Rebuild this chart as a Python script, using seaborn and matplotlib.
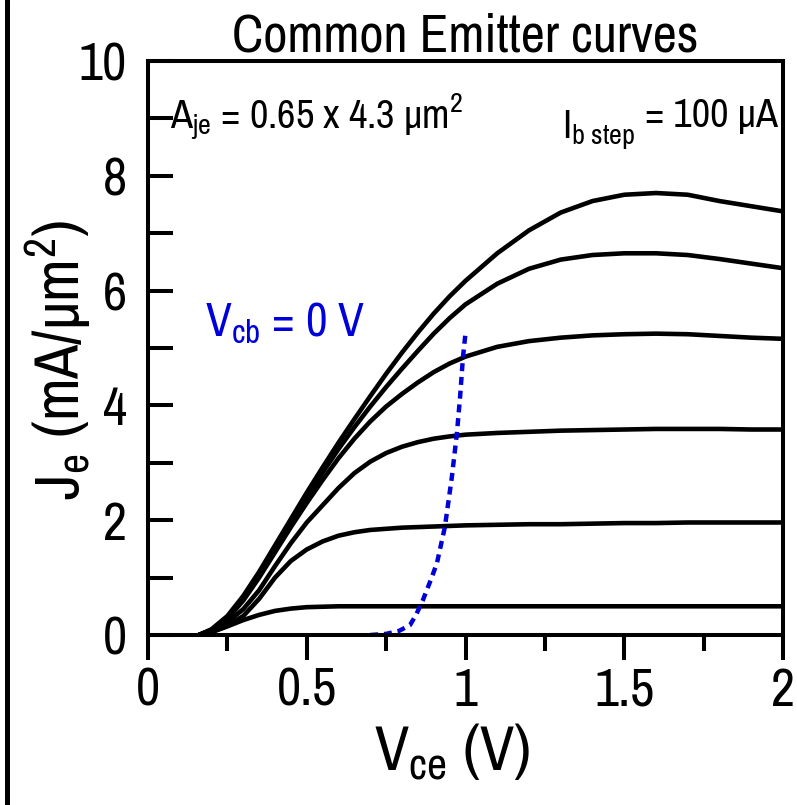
import matplotlib
matplotlib.use('Agg')
import matplotlib.pyplot as plt
import seaborn as sns
import pandas as pd
from matplotlib import font_manager
from matplotlib.lines import Line2D
from matplotlib.ticker import MultipleLocator, FixedLocator, FixedFormatter

# ---------------- data ----------------
vce_low = [0.16, 0.2, 0.25, 0.3, 0.35, 0.4, 0.45, 0.5, 0.6, 0.8, 1.0, 1.5, 2.0]
je_ib1 = [0, 0.05, 0.15, 0.26, 0.35, 0.42, 0.46, 0.485, 0.5, 0.5, 0.5, 0.5, 0.5]

vce_grid = [0.16, 0.2, 0.25, 0.3, 0.35, 0.4, 0.45, 0.5, 0.55, 0.6, 0.65, 0.7, 0.75,
            0.8, 0.85, 0.9, 0.95, 1.0, 1.1, 1.2, 1.3, 1.4, 1.5, 1.6, 1.7, 1.8, 1.9, 2.0]
je_ib2 = [0, 0.05, 0.16, 0.33, 0.63, 1.0, 1.29, 1.49, 1.63, 1.73, 1.79, 1.83, 1.85,
          1.87, 1.88, 1.89, 1.90, 1.91, 1.92, 1.93, 1.93, 1.94, 1.95, 1.95, 1.96, 1.96, 1.96, 1.96]
je_ib3 = [0, 0.07, 0.22, 0.45, 0.78, 1.2, 1.6, 1.96, 2.26, 2.56, 2.82, 3.02, 3.17,
          3.28, 3.36, 3.42, 3.46, 3.49, 3.52, 3.54, 3.56, 3.57, 3.58, 3.59, 3.59, 3.59, 3.58, 3.58]
je_ib4 = [0, 0.08, 0.28, 0.6, 1.0, 1.44, 1.88, 2.3, 2.7, 3.08, 3.42, 3.72, 3.98,
          4.2, 4.4, 4.58, 4.73, 4.85, 5.02, 5.12, 5.18, 5.22, 5.24, 5.25, 5.24, 5.21, 5.18, 5.16]
je_ib5 = [0, 0.09, 0.31, 0.64, 1.05, 1.5, 1.95, 2.4, 2.83, 3.24, 3.62, 3.98, 4.32,
          4.64, 4.95, 5.25, 5.52, 5.76, 6.12, 6.38, 6.54, 6.62, 6.65, 6.65, 6.62, 6.55, 6.47, 6.39]
je_ib6 = [0, 0.1, 0.33, 0.68, 1.1, 1.56, 2.02, 2.48, 2.92, 3.35, 3.76, 4.16, 4.55,
          4.92, 5.27, 5.6, 5.9, 6.17, 6.65, 7.05, 7.36, 7.56, 7.67, 7.7, 7.67, 7.56, 7.47, 7.38]

vcb0_vce = [0.70, 0.75, 0.79, 0.825, 0.845, 0.866, 0.89, 0.91, 0.935, 0.957, 0.973, 0.983, 0.992, 1.0]
vcb0_je = [0, 0.02, 0.07, 0.17, 0.36, 0.61, 0.95, 1.25, 1.88, 2.75, 3.52, 4.15, 4.84, 5.26]

x_major = [0, 0.5, 1, 1.5, 2]
x_labels = ['0', '0.5', '1', '1.5', '2']
y_major = [0, 2, 4, 6, 8, 10]
y_labels = ['0', '2', '4', '6', '8', '10']

# ---------------- long table ----------------
rows = []
for x, y in zip(vce_low, je_ib1):
    rows.append(('ib1', x, y))
for name, ys in [('ib2', je_ib2), ('ib3', je_ib3), ('ib4', je_ib4),
                 ('ib5', je_ib5), ('ib6', je_ib6)]:
    for x, y in zip(vce_grid, ys):
        rows.append((name, x, y))
df = pd.DataFrame(rows, columns=['curve', 'Vce', 'Je'])
df_vcb = pd.DataFrame({'Vce': vcb0_vce, 'Je': vcb0_je})

# ---------------- style ----------------
sns.set_style('ticks')
names = {f.name for f in font_manager.fontManager.ttflist}
main = 'DejaVu Sans'
for cand in ['Liberation Sans Narrow', 'Arimo Narrow', 'Archivo Narrow', 'Roboto Condensed',
             'Fira Sans Condensed', 'Liberation Sans']:
    if cand in names:
        main = cand
        break
plt.rcParams['font.family'] = [main, 'Liberation Sans', 'DejaVu Sans']
plt.rcParams['mathtext.fontset'] = 'custom'
plt.rcParams['mathtext.rm'] = main
plt.rcParams['mathtext.it'] = main
plt.rcParams['mathtext.sf'] = main
plt.rcParams['mathtext.bf'] = main + ':bold'
for k in ['text.color', 'axes.labelcolor', 'xtick.color', 'ytick.color', 'axes.edgecolor']:
    plt.rcParams[k] = 'black'

fig = plt.figure(figsize=(7.97, 8.05), dpi=100)
ax = fig.add_axes([148 / 797, 1 - 635 / 805, 635 / 797, 574 / 805])

sns.lineplot(data=df, x='Vce', y='Je', units='curve', estimator=None,
             color='black', lw=3.3, ax=ax, sort=False, solid_capstyle='round',
             solid_joinstyle='round')
sns.lineplot(data=df_vcb, x='Vce', y='Je', color='#0000d8', lw=3.2, ax=ax, sort=False)
ax.lines[-1].set_linestyle((0, (1.8, 1.3)))
ax.lines[-1].set_dash_capstyle('butt')

ax.set_xlim(0, 2)
ax.set_ylim(0, 10)
for s in ax.spines.values():
    s.set_linewidth(2.9)
    s.set_color('black')
    s.set_visible(True)

ax.xaxis.set_major_locator(FixedLocator(x_major))
ax.xaxis.set_major_formatter(FixedFormatter(x_labels))
ax.xaxis.set_minor_locator(MultipleLocator(0.25))
ax.yaxis.set_major_locator(FixedLocator(y_major))
ax.yaxis.set_major_formatter(FixedFormatter(y_labels))
ax.yaxis.set_minor_locator(MultipleLocator(1))

ax.tick_params(axis='x', which='major', direction='out', length=18, width=2.9,
               pad=5, labelsize=38, colors='black')
ax.tick_params(axis='x', which='minor', direction='out', length=11.5, width=2.9)
ax.tick_params(axis='y', which='both', direction='in', length=18, width=2.9,
               pad=15, labelsize=38, colors='black', right=False)
ax.tick_params(axis='y', which='minor', length=18)

ax.set_title('Common Emitter curves', fontsize=38, pad=6)

ax.set_xlabel('V$_{\\mathrm{ce}}$ (V)', fontsize=45)
ax.xaxis.set_label_coords(0.479, -0.152)
ax.set_ylabel('J$_{\\mathrm{e}}$ (mA/μm$^{2}$)', fontsize=45)
ax.yaxis.set_label_coords(-0.085, 0.48)

ax.text(0.035, 0.883, 'A$_{\\mathrm{je}}$ = 0.65 x 4.3 μm$^{2}$', transform=ax.transAxes,
        fontsize=29, va='baseline', ha='left')
ax.text(0.652, 0.866, 'I$_{\\mathrm{b\\ step}}$', transform=ax.transAxes,
        fontsize=29, va='baseline', ha='left')
ax.text(0.992, 0.885, '= 100 μA', transform=ax.transAxes,
        fontsize=29, va='baseline', ha='right')
ax.text(0.09, 0.5226, 'V$_{\\mathrm{cb}}$ = 0 V', transform=ax.transAxes,
        fontsize=34, va='baseline', ha='left', color='#0000d8')

fig.add_artist(Line2D([6.5 / 797, 6.5 / 797], [0, 1], transform=fig.transFigure,
                      color='black', lw=3.6))

fig.savefig('out.png', dpi=100)
